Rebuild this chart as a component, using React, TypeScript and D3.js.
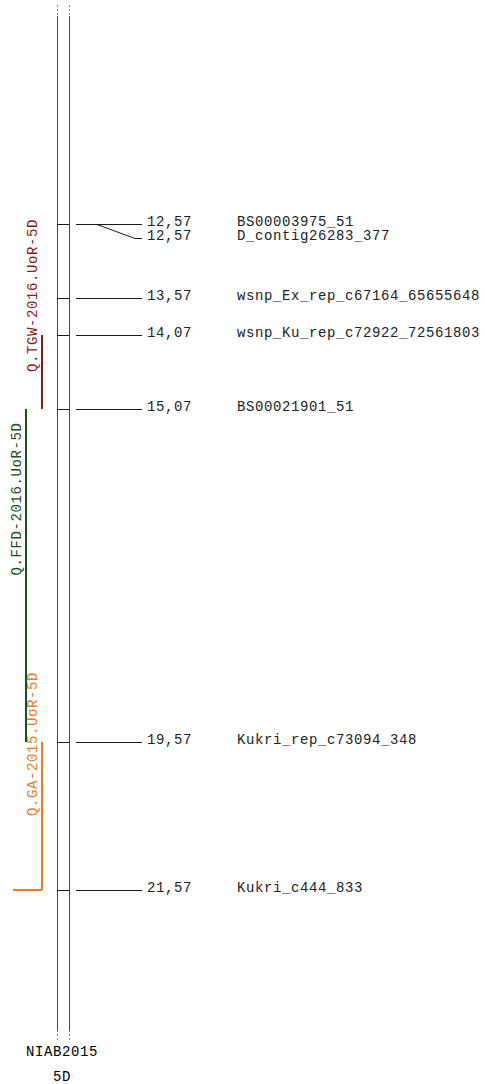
import React from "react";
import * as d3 from "d3";

// Linkage group 5D of the NIAB2015 map
const chromName = "NIAB2015";
const groupName = "5D";
const chromStart = 9.76;
const chromEnd = 23.46;

const markerNames = [
  "BS00003975_51",
  "D_contig26283_377",
  "wsnp_Ex_rep_c67164_65655648",
  "wsnp_Ku_rep_c72922_72561803",
  "BS00021901_51",
  "Kukri_rep_c73094_348",
  "Kukri_c444_833",
];
const markerPos = [12.57, 12.57, 13.57, 14.07, 15.07, 19.57, 21.57];

const qtlNames = ["Q.TGW-2016.UoR-5D", "Q.FFD-2016.UoR-5D", "Q.GA-2015.UoR-5D"];
const qtlStart = [14.07, 15.07, 19.57];
const qtlEnd = [15.07, 19.57, 21.57];
const qtlColors = ["#8b1a1a", "#1e4d1e", "#f07a22"];
const qtlFoot = [false, false, true];

const W = 485;
const H = 1084;
const FONT = "'Liberation Mono', 'Courier New', monospace";

export default function App() {
  const y = d3.scaleLinear().domain([chromStart, chromEnd]).range([16, 1030]);
  const fmt = (v: number) => d3.format(".2f")(v).replace(".", ",");

  const chrL = 57;
  const chrR = 69;
  const chrMid = (chrL + chrR) / 2;

  // marker labels pushed down so they never overlap
  const rowGap = 14;
  let prev = -Infinity;
  const markers = markerNames.map((name, i) => {
    const my = Math.round(y(markerPos[i])) + 0.5;
    const ly = Math.max(my, prev + rowGap);
    prev = ly;
    return { name, pos: markerPos[i], my, ly };
  });

  // greedy column assignment for QTL bars
  const colEnds: number[] = [];
  const qtls = qtlNames.map((name, i) => {
    let col = colEnds.findIndex((e) => e < qtlStart[i]);
    if (col < 0) {
      col = colEnds.length;
      colEnds.push(qtlEnd[i]);
    } else colEnds[col] = qtlEnd[i];
    return { name, s: qtlStart[i], e: qtlEnd[i], color: qtlColors[i], foot: qtlFoot[i], col };
  });
  const colX = (c: number) => 42 - c * 16;

  const lineStart = 76;
  const bendStart = 97;
  const bendEnd = 135;
  const lineEnd = 142;
  const ink = "#1a1a1a";

  return (
    <svg
      width={W}
      height={H}
      style={{ position: "absolute", left: 0, top: 0, background: "#fff" }}
      fontFamily={FONT}
    >
      {/* chromosome outline */}
      {[chrL, chrR].map((x) => (
        <g key={x} shapeRendering="crispEdges">
          <line x1={x + 0.5} x2={x + 0.5} y1={y(chromStart)} y2={y(chromEnd)} stroke="#444" />
          <line x1={x + 0.5} x2={x + 0.5} y1={y(chromStart) - 11} y2={y(chromStart)} stroke="#888" strokeDasharray="2,2" />
          <line x1={x + 0.5} x2={x + 0.5} y1={y(chromEnd)} y2={y(chromEnd) + 12} stroke="#888" strokeDasharray="2,2" />
        </g>
      ))}

      {/* markers */}
      {markers.map((m, i) => (
        <g key={i}>
          <line x1={chrL} x2={chrR} y1={m.my} y2={m.my} stroke={ink} shapeRendering="crispEdges" />
          {m.ly === m.my ? (
            <line x1={lineStart} x2={lineEnd} y1={m.my} y2={m.my} stroke={ink} shapeRendering="crispEdges" />
          ) : (
            <path d={`M${bendStart},${m.my}L${bendEnd},${m.ly}H${lineEnd}`} fill="none" stroke={ink} />
          )}
          <text x={147} y={m.ly + 1} fontSize={14} letterSpacing={0.6} fill="#222">
            {fmt(m.pos)}
          </text>
          <text x={237} y={m.ly + 1} fontSize={14} letterSpacing={0.6} fill="#222">
            {m.name}
          </text>
        </g>
      ))}

      {/* QTL intervals */}
      {qtls.map((q, i) => {
        const x = colX(q.col);
        const y0 = y(q.s);
        const y1 = y(q.e);
        const mid = (y0 + y1) / 2;
        return (
          <g key={i}>
            <line x1={x} x2={x} y1={y0} y2={y1} stroke={q.color} strokeWidth={2} shapeRendering="crispEdges" />
            {q.foot && (
              <line x1={x - 29} x2={x} y1={y1} y2={y1} stroke={q.color} strokeWidth={1.5} shapeRendering="crispEdges" />
            )}
            <text
              transform={`translate(${x - 5},${mid}) rotate(-90)`}
              fontSize={14}
              letterSpacing={0.6}
              fill={q.color}
            >
              {q.name}
            </text>
          </g>
        );
      })}

      {/* map and group names */}
      <text x={chrMid - 1} y={1056} textAnchor="middle" fontSize={14} letterSpacing={0.6} fill="#000">
        {chromName}
      </text>
      <text x={chrMid - 1} y={1081} textAnchor="middle" fontSize={14} letterSpacing={0.6} fill="#000">
        {groupName}
      </text>
    </svg>
  );
}
